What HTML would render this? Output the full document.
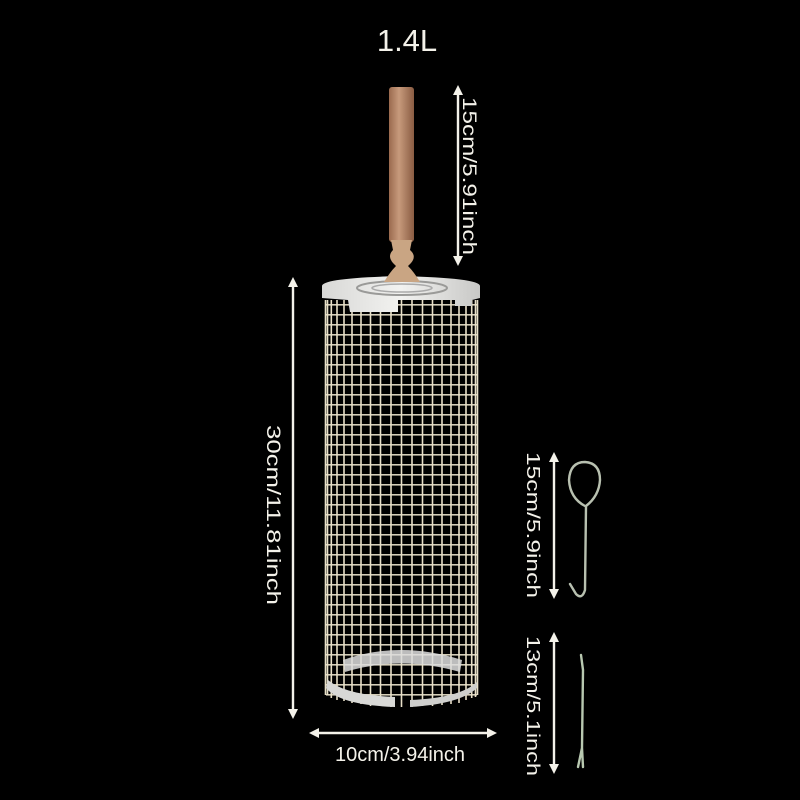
<!DOCTYPE html>
<html><head><meta charset="utf-8"><style>
html,body{margin:0;padding:0;background:#000;}
svg{display:block}
text{font-family:"Liberation Sans","DejaVu Sans",sans-serif;fill:#f4f2ea}
</style></head><body>
<svg width="800" height="800" viewBox="0 0 800 800" xmlns="http://www.w3.org/2000/svg">
<defs>
<pattern id="hl" x="0" y="304" width="10" height="10" patternUnits="userSpaceOnUse">
<rect x="0" y="0" width="10" height="1.6" fill="#ece4cc"/>
</pattern>
<marker id="ah" markerWidth="10" markerHeight="10" refX="5" refY="5" orient="auto-start-reverse" markerUnits="userSpaceOnUse">
<path d="M0,0 L10,5 L0,10 Z" fill="#f4f2ea"/>
</marker>
<linearGradient id="wood" x1="0" x2="1">
<stop offset="0" stop-color="#9a6a4e"/><stop offset="0.4" stop-color="#c79a7c"/><stop offset="1" stop-color="#8a5c42"/>
</linearGradient>
<linearGradient id="lid" x1="0" x2="1">
<stop offset="0" stop-color="#d8d8d6"/><stop offset="0.5" stop-color="#f2f2f0"/><stop offset="1" stop-color="#c8c8c6"/>
</linearGradient>
</defs>
<rect width="800" height="800" fill="#000"/>

<text x="407" y="51" font-size="31" text-anchor="middle">1.4L</text>

<!-- mesh -->
<rect x="326" y="304" width="151" height="393" fill="url(#hl)" opacity="0.9"/>
<g stroke="#e8e0c8" stroke-width="1.6">
<line x1="325.5" y1="300" x2="325.5" y2="695"/><line x1="327.5" y1="300" x2="327.5" y2="695"/>
<line x1="331.3" y1="300" x2="331.3" y2="698"/>
<line x1="337" y1="300" x2="337" y2="700"/><line x1="344" y1="300" x2="344" y2="701"/>
<line x1="352" y1="300" x2="352" y2="703"/><line x1="361" y1="300" x2="361" y2="704"/>
<line x1="370.5" y1="300" x2="370.5" y2="706"/>
<line x1="380.5" y1="300" x2="380.5" y2="706"/><line x1="391" y1="300" x2="391" y2="707"/>
<line x1="401.5" y1="300" x2="401.5" y2="707"/><line x1="412" y1="300" x2="412" y2="707"/>
<line x1="422.5" y1="300" x2="422.5" y2="706"/><line x1="432.5" y1="300" x2="432.5" y2="706"/>
<line x1="442" y1="300" x2="442" y2="705"/><line x1="451" y1="300" x2="451" y2="704"/>
<line x1="459" y1="300" x2="459" y2="703"/><line x1="466" y1="300" x2="466" y2="700"/>
<line x1="471.7" y1="300" x2="471.7" y2="698"/>
<line x1="475.5" y1="300" x2="475.5" y2="697"/><line x1="477.5" y1="300" x2="477.5" y2="695"/>
</g>
<!-- bottom ring -->
<path d="M343,660 Q400,640 462,660 L460,672 Q400,655 345,672 Z" fill="#ddd" opacity="0.85"/>
<path d="M326,688 Q340,705 395,707 L395,697 Q345,695 328,680 Z" fill="#d8d8d6"/>
<path d="M410,707 Q460,704 477,688 L477,682 Q460,698 410,700 Z" fill="#cfcfcd"/>

<!-- lid -->
<path d="M322,286 Q322,278 400,276 Q480,278 480,286 L480,298 L472,300 L472,306 L455,306 L455,300 L398,300 L398,312 L350,312 L348,300 L322,298 Z" fill="url(#lid)"/>
<ellipse cx="402" cy="288" rx="45" ry="7" fill="none" stroke="#9a9a98" stroke-width="2"/>
<ellipse cx="402" cy="288" rx="30" ry="4" fill="none" stroke="#aaa" stroke-width="1.5"/>

<!-- wooden handle -->
<rect x="389" y="87" width="25" height="155" rx="3" fill="url(#wood)"/>
<path d="M391,240 L412,240 L410,250 Q417,256 411,263 L408,266 Q414,272 420,282 L384,282 Q390,272 396,266 L393,263 Q387,256 393,250 Z" fill="#c9a583"/>

<!-- arrows -->
<g stroke="#f4f2ea" stroke-width="2.4" fill="none">
<line x1="458" y1="90" x2="458" y2="261" marker-start="url(#ah)" marker-end="url(#ah)"/>
<line x1="293" y1="282" x2="293" y2="714" marker-start="url(#ah)" marker-end="url(#ah)"/>
<line x1="314" y1="733" x2="492" y2="733" marker-start="url(#ah)" marker-end="url(#ah)"/>
<line x1="554" y1="457" x2="554" y2="594" marker-start="url(#ah)" marker-end="url(#ah)"/>
<line x1="554" y1="637" x2="554" y2="769" marker-start="url(#ah)" marker-end="url(#ah)"/>
</g>

<!-- labels -->
<text x="400" y="761" font-size="20" text-anchor="middle">10cm/3.94inch</text>
<text transform="translate(463,97) rotate(90)" font-size="19" textLength="158" lengthAdjust="spacingAndGlyphs">15cm/5.91inch</text>
<text transform="translate(267,425) rotate(90)" font-size="19" textLength="180" lengthAdjust="spacingAndGlyphs">30cm/11.81inch</text>
<text transform="translate(527,452) rotate(90)" font-size="18" textLength="146" lengthAdjust="spacingAndGlyphs">15cm/5.9inch</text>
<text transform="translate(527,636) rotate(90)" font-size="18" textLength="140" lengthAdjust="spacingAndGlyphs">13cm/5.1inch</text>

<!-- hook -->
<g fill="none" stroke="#b8c0b0" stroke-width="2.4" stroke-linecap="round">
<path d="M585,506 Q570,498 569,480 Q570,462 585,462 Q600,463 600,480 Q599,496 586,506 L585,590 Q582,600 576,594 L570,584"/>
</g>
<!-- fork -->
<path d="M581,655 L583,670 L582,748 L578,767 M582,748 L583,767" fill="none" stroke="#b8c8b0" stroke-width="2.4" stroke-linecap="round"/>
</svg>
</body></html>
